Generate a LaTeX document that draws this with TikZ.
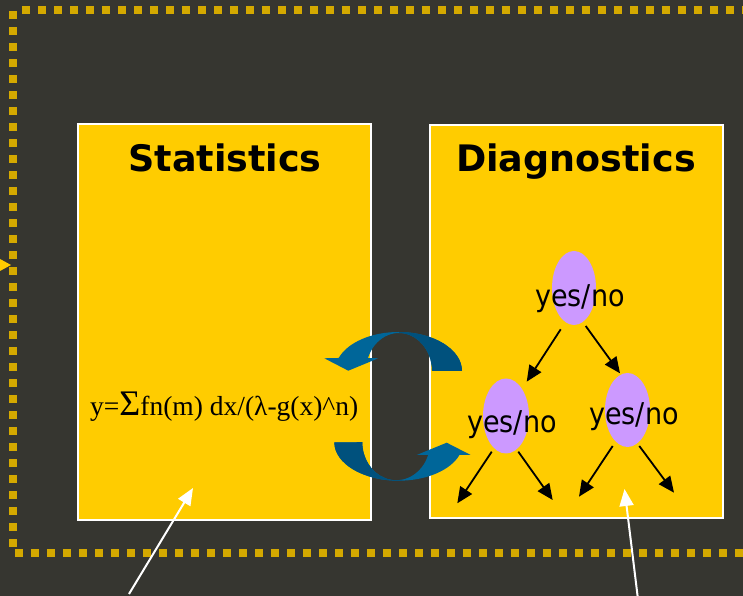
\documentclass[tikz,border=0pt]{standalone}
\usepackage{fontspec}
\setmainfont{Liberation Serif}
\newfontfamily\titlefont{DejaVu Sans}
\newfontfamily\ynfont[FakeStretch=0.9]{DejaVu Sans}
\usetikzlibrary{arrows.meta,shapes.geometric}
\definecolor{bg}{HTML}{363630}
\definecolor{dotc}{HTML}{D4A900}
\definecolor{boxc}{HTML}{FFCC00}
\definecolor{nodec}{HTML}{CC99FF}
\definecolor{bluel}{HTML}{006699}
\definecolor{blued}{HTML}{00517D}
\newcommand\toparrowpath{(462,225) arc[start angle=0,end angle=160.5,x radius=63.5,y radius=39] -- (324.3,237.7) -- (348.3,225.3) -- (378.3,237.7) -- (368,238) arc[start angle=160,end angle=0,x radius=33,y radius=38] -- cycle}
\newcommand\botarrowpath{(334.3,153.7) arc[start angle=180,end angle=340.7,x radius=64.4,y radius=38.4] -- (470.7,141) -- (446.7,153.3) -- (416.7,141) -- (428.2,141.2) arc[start angle=340.7,end angle=180,x radius=33.9,y radius=38] -- cycle}
\begin{document}
\begin{tikzpicture}[x=1pt,y=1pt,
  panel/.style={rectangle, fill=boxc, draw=white, line width=2pt, inner sep=0},
  title/.style={font=\titlefont\bfseries\fontsize{36.5}{40}\selectfont, anchor=base, inner sep=0},
  decision/.style={ellipse, fill=nodec, inner sep=0, minimum width=44pt, minimum height=74pt},
  yn/.style={font=\ynfont\fontsize{30}{34}\selectfont, anchor=base, inner sep=0},
  tree/.style={-{Triangle[length=16pt,width=14pt]}, line width=1.8pt, black},
  pointer/.style={-{Triangle[length=17pt,width=14pt]}, line width=2pt, white},
  sq/.style={fill=dotc}]
\useasboundingbox (0,0) rectangle (743,596);
\fill[bg] (0,0) rectangle (743,596);
% dotted frame
\foreach \i in {0,...,45} \fill[sq] ({22+16*\i},581.5) rectangle ++(8,8);
\foreach \k in {0,...,33} \fill[sq] (9.3,{577.3-16*\k}) rectangle ++(8,8);
\foreach \i in {0,...,45} \fill[sq] ({15+16*\i},39) rectangle ++(8,8);
% small pointer at left edge
\fill[boxc] (0,337) -- (11,331) -- (0,325) -- cycle;
% panels
\node[panel, minimum width=293pt, minimum height=396pt] (stat) at (224.5,274) {};
\node[panel, minimum width=293pt, minimum height=393pt] (diag) at (576.5,274.5) {};
\node[title] (sttitle) at (225,424.3) {Statistics};
\node[title] (dgtitle) at (576,424.3) {Diagnostics};
% formula
\node[anchor=base west, inner sep=0, font=\fontsize{27.5}{30}\selectfont] (formula) at (90,180.3)
  {y=\fontsize{36}{38}\selectfont Σ\fontsize{27.5}{30}\selectfont fn(m) dx/(λ-g(x)\textasciicircum n)};
% decision tree
\node[decision] (e1) at (574,308) {};
\node[decision, minimum width=46pt, minimum height=75pt] (e2) at (506,180) {};
\node[decision, minimum width=45pt] (e3) at (627.5,186) {};
\node[yn] (t1) at (580,289.3) {yes/no};
\node[yn] (t2) at (512,163.3) {yes/no};
\node[yn] (t3) at (634,171) {yes/no};
\coordinate (a1s) at (560.7,266.7); \coordinate (a1e) at (526.7,214.3);
\coordinate (a2s) at (585.7,270);   \coordinate (a2e) at (620,222.7);
\coordinate (a3s) at (491.7,144.3); \coordinate (a3e) at (457.3,92.7);
\coordinate (a4s) at (518.3,144.3); \coordinate (a4e) at (552.7,96);
\coordinate (a5s) at (612.7,150);   \coordinate (a5e) at (579,99.3);
\coordinate (a6s) at (639.3,150);   \coordinate (a6e) at (674,103.3);
\draw[tree] (a1s) -- (a1e);
\draw[tree] (a2s) -- (a2e);
\draw[tree] (a3s) -- (a3e);
\draw[tree] (a4s) -- (a4e);
\draw[tree] (a5s) -- (a5e);
\draw[tree] (a6s) -- (a6e);
% cycle arrows
\fill[bluel] \toparrowpath;
\begin{scope}
  \clip (399,0) rectangle (743,596);
  \fill[blued] \toparrowpath;
\end{scope}
\fill[bluel] \botarrowpath;
\begin{scope}
  \clip (0,0) rectangle (402,596);
  \fill[blued] \botarrowpath;
\end{scope}
% white pointers
\coordinate (w1s) at (129,2); \coordinate (w1e) at (193,108);
\coordinate (w2s) at (637.7,-1); \coordinate (w2e) at (624.5,107);
\draw[pointer] (w1s) -- (w1e);
\draw[pointer] (w2s) -- (w2e);
\end{tikzpicture}
\end{document}
